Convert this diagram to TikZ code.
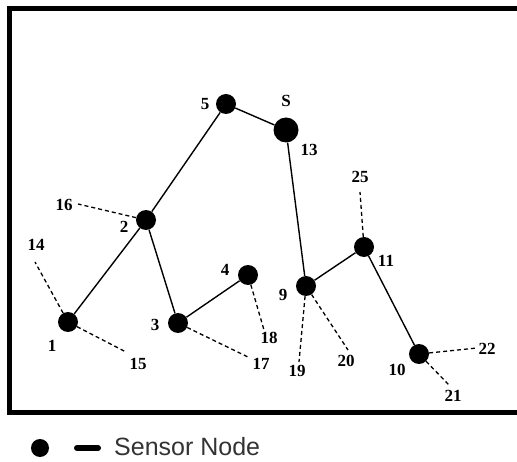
\documentclass[tikz,border=0pt]{standalone}
\usepackage{fontspec}
\setmainfont{Liberation Serif}
\newfontfamily\legendfont{Liberation Sans}
\usepackage{tikz}
\usetikzlibrary{calc}
\tikzstyle{vertex}=[circle,fill=black,minimum size=20pt,inner sep=0pt]
\tikzstyle{sink}=[circle,fill=black,minimum size=25pt,inner sep=0pt]
\tikzstyle{edge} = [draw,line width=1.4pt,-]
\tikzstyle{link} = [draw,line width=1.3pt,dash pattern=on 4pt off 3pt,-]
\tikzstyle{tag} = [inner sep=0pt,font=\fontsize{17}{17}\selectfont\bfseries]

\begin{document}
\begin{tikzpicture}[x=1pt,y=-1pt]
      \useasboundingbox (0,0) rectangle (517,462);
      \draw[line width=5pt] (9.5,9) rectangle (521,412);

      % sensor nodes
      \foreach \x/\y/\id in {68/322/1,146/220/2,178/323/3,248/275/4,226/104/5,
                              306/286/9,419/354/10,364/247/11}{
        \node[vertex] (\id) at (\x,\y) {};
      }
      \node[sink] (13) at (286,130) {};

      % free ends of the dashed links
      \foreach \x/\y/\id in {35/262/14,126/352/15,78/204/16,250/358/17,264/330/18,
                              299/362/19,348/350/20,449/385/21,477/348/22,360/192/25}{
        \coordinate (c\id) at (\x,\y);
      }

      \foreach \a/\b in {1/2,2/5,5/13,13/9,2/3,3/4,9/11,11/10}{
        \path[edge] (\a) -- (\b);
      }
      \foreach \a/\b in {1/14,1/15,2/16,3/17,4/18,9/19,9/20,10/21,10/22,11/25}{
        \path[link] (\a) -- (c\b);
      }

      % labels
      \foreach \x/\y/\t in {52/346/1,124/227/2,155/325/3,225/270/4,205/104/5,
                             283/295/9,397/370/10,386/261/11,309/150/13,286/101/S,
                             36/245/14,138/364/15,64/205/16,261/364/17,269/338/18,
                             297/371/19,346/361/20,453/396/21,487/349/22,360/177/25}{
        \node[tag] at (\x,\y) {\t};
      }

      % legend
      \node[vertex,minimum size=18pt] (dot) at (40,448) {};
      \coordinate (dashA) at (77,448);
      \coordinate (dashB) at (98,448);
      \draw[line width=6pt,line cap=round] (dashA) -- (dashB);
      \node[anchor=west,inner sep=0pt,text=black!80,
            font=\legendfont\fontsize{25}{25}\selectfont] (legend) at (114,447) {Sensor Node};

    \end{tikzpicture}
\end{document}
